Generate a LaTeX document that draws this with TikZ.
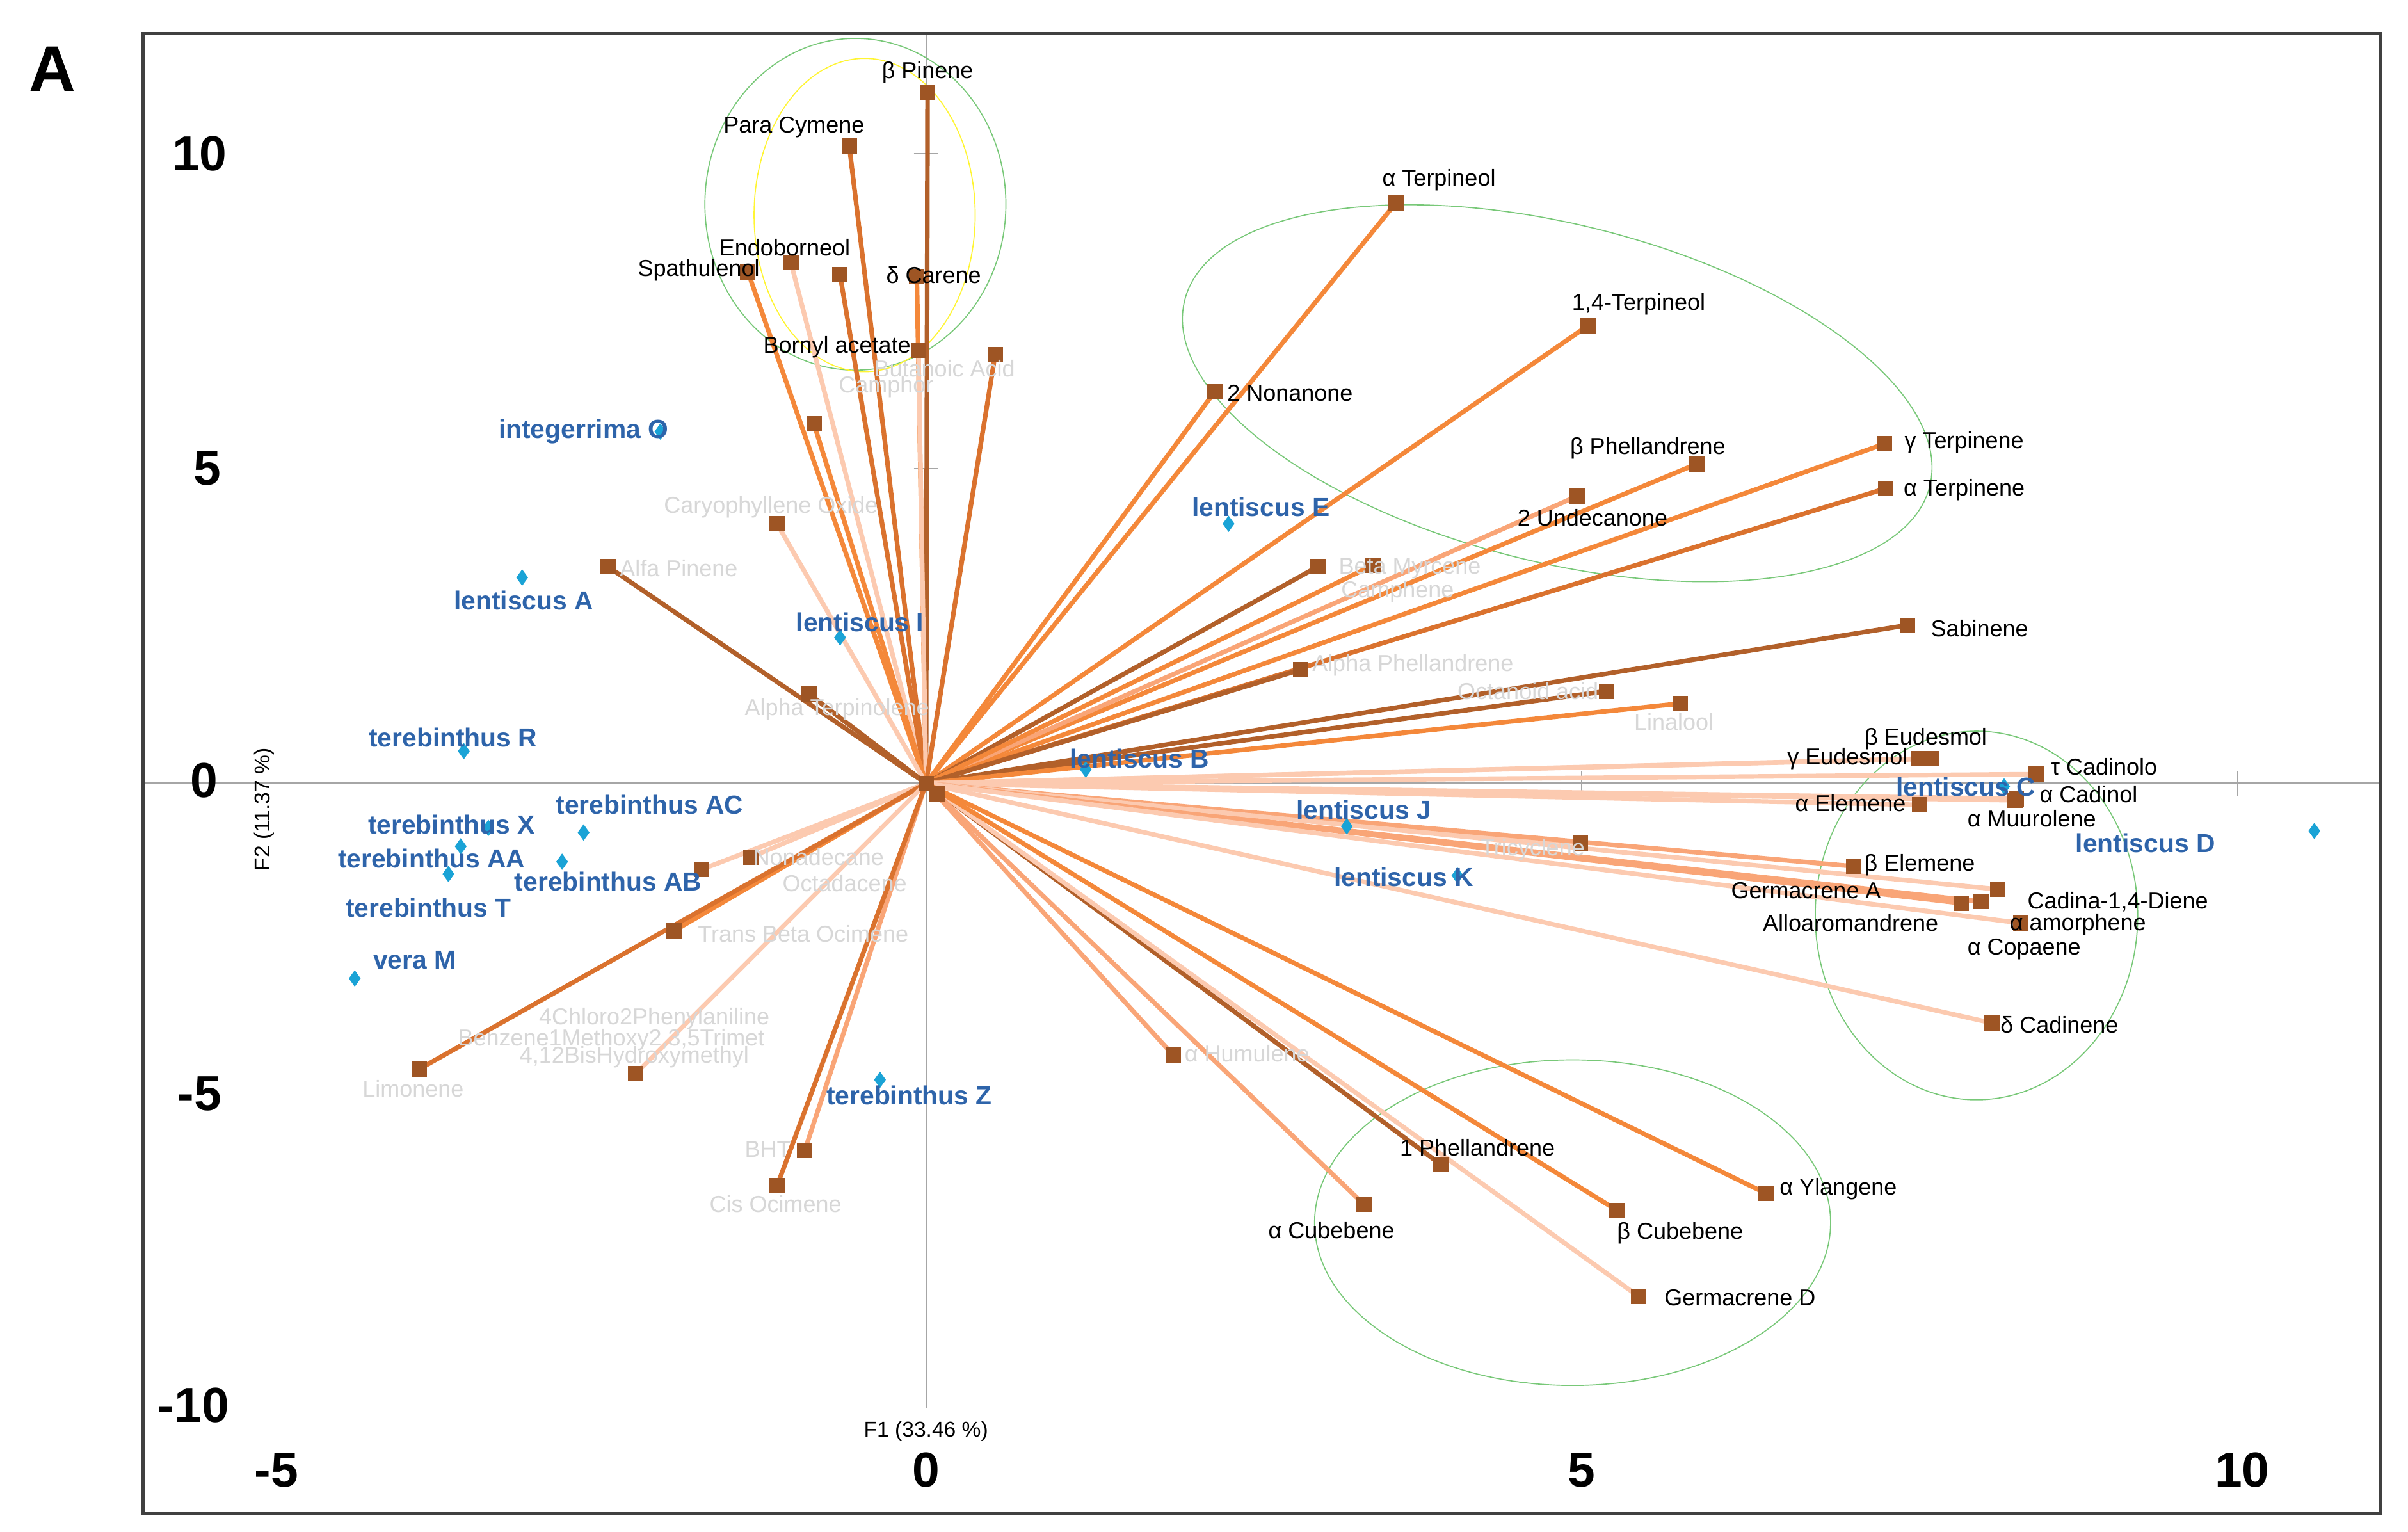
\documentclass[tikz,border=0pt]{standalone}
\usepackage{fontspec}
\setmainfont{Liberation Sans}
\begin{document}
\begin{tikzpicture}[x=0.5pt,y=-0.5pt,
 ln/.style={line width=1.5pt},
 c1/.style={ln,draw={rgb,255:red,178;green,96;blue,42}},
 c2/.style={ln,draw={rgb,255:red,244;green,136;blue,58}},
 c3/.style={ln,draw={rgb,255:red,218;green,114;blue,46}},
 c4/.style={ln,draw={rgb,255:red,249;green,165;blue,119}},
 c5/.style={ln,draw={rgb,255:red,252;green,202;blue,176}},
 sq/.style={fill={rgb,255:red,158;green,85;blue,36},minimum size=5pt,inner sep=0pt},
 bl/.style={font=\fontsize{7.5}{8}\selectfont,inner sep=0pt,text=black},
 gr/.style={font=\fontsize{7.5}{8}\selectfont,inner sep=0pt,text={rgb,255:red,215;green,215;blue,215}},
 bu/.style={font=\bfseries\fontsize{8.5}{9}\selectfont,inner sep=0pt,text={rgb,255:red,46;green,100;blue,170}},
 dm/.style={diamond,fill={rgb,255:red,26;green,163;blue,214},inner sep=0pt,minimum width=4pt,minimum height=5.5pt},
 tk/.style={font=\bfseries\fontsize{16}{18}\selectfont,inner sep=0pt},
 el/.style={draw={rgb,255:red,120;green,200;blue,120},line width=0.35pt}]
\usetikzlibrary{shapes.geometric}
\useasboundingbox (0,0) rectangle (1568,997);
\fill[white] (0,0) rectangle (1568,997);
% axes
\draw[gray!70,line width=0.5pt] (93,510) -- (1550,510);
\draw[gray!70,line width=0.5pt] (603,22) -- (603,917);
\foreach \x in {1030,1457} \draw[gray!70,line width=0.5pt] (\x,502) -- (\x,518);
\foreach \y in {100,305} \draw[gray!70,line width=0.5pt] (595,\y) -- (611,\y);
\coordinate (O) at (603,510);
% ellipses
\draw[el] (557,133) ellipse [x radius=98,y radius=108];
\draw[yellow!80!white,line width=0.35pt] (563,140) ellipse [x radius=72,y radius=102];
\draw[el,rotate around={-14:(1014,256)}] (1014,256) ellipse [x radius=250,y radius=110];
\draw[el] (1287,596) ellipse [x radius=105,y radius=120];
\draw[el] (1024,796) ellipse [x radius=168,y radius=106];
% loadings
\newcommand\ld[3]{\coordinate (#1) at (#2); \draw[#3] (O) -- (#1);}
\ld{bpin}{604,60}{c1}
\ld{pcym}{553,95}{c3}
\ld{endo}{515,171}{c5}
\ld{spat}{487,177}{c2}
\ld{unk}{547,179}{c3}
\ld{dcar}{597,180}{c2}
\ld{camp}{598,228}{c5}
\ld{buta}{648,231}{c3}
\ld{born}{530,276}{c2}
\ld{cary}{506,341}{c5}
\ld{alfp}{396,369}{c1}
\ld{alte}{527,452}{c1}
\ld{ater}{909,132}{c2}
\ld{tter}{1034,212}{c2}
\ld{nona}{791,255}{c2}
\ld{bphe}{1105,302}{c2}
\ld{unde}{1027,323}{c4}
\ld{gter}{1227,289}{c2}
\ld{aterp}{1228,318}{c3}
\ld{sabi}{1242,407}{c1}
\ld{bmyr}{858,369}{c1}
\ld{camh}{894,368}{c2}
\ld{aphe}{847,436}{c1}
\ld{octa}{1046,450}{c1}
\ld{lina}{1094,458}{c2}
\ld{beud}{1258,494}{c5}
\ld{geud}{1249,494}{c5}
\ld{tcad}{1326,504}{c5}
\ld{acad}{1313,520}{c5}
\ld{amuu}{1312,521}{c5}
\ld{aele}{1250,524}{c5}
\ld{tric}{1029,549}{c5}
\ld{bele}{1207,564}{c4}
\ld{gera}{1290,587}{c4}
\ld{cadd}{1301,579}{c5}
\ld{allo}{1277,588}{c4}
\ld{aamo}{1316,601}{c5}
\ld{dcad}{1297,666}{c5}
\ld{ahum}{764,687}{c4}
\ld{phel}{938,758}{c1}
\ld{germd}{1067,844}{c5}
\ld{acub}{888,784}{c4}
\ld{bcub}{1053,788}{c2}
\ld{ayla}{1150,777}{c2}
\ld{nonad}{489,558}{c5}
\ld{octd}{457,566}{c5}
\ld{tbo}{439,606}{c2}
\ld{limo}{273,696}{c3}
\ld{bis}{414,699}{c5}
\ld{bht}{524,749}{c4}
\ld{cis}{506,772}{c3}
\ld{ctr}{610,517}{c1}
\foreach \n in {bpin,pcym,endo,spat,unk,dcar,camp,buta,born,cary,alfp,alte,ater,tter,nona,bphe,unde,gter,aterp,sabi,bmyr,camh,aphe,octa,lina,beud,geud,tcad,acad,amuu,aele,tric,bele,gera,cadd,allo,aamo,dcad,ahum,phel,germd,acub,bcub,ayla,nonad,octd,tbo,limo,bis,bht,cis,ctr,O}
  \node[sq] at (\n) {};
% black labels
\node[bl] (l1) at (604,47) {β Pinene};
\node[bl] (l2) at (517,83) {Para Cymene};
\node[bl] (l3) at (511,161) {Endoborneol};
\node[bl] (l4) at (455,176) {Spathulenol};
\node[bl] (l5) at (608,179) {δ Carene};
\node[bl] (l6) at (545,226) {Bornyl acetate};
\node[bl] (l7) at (937,117) {α Terpineol};
\node[bl] (l8) at (1067,198) {1,4-Terpineol};
\node[bl] (l9) at (840,256) {2 Nonanone};
\node[bl] (l10) at (1073,292) {β Phellandrene};
\node[bl] (l11) at (1037,337) {2 Undecanone};
\node[bl] (l12) at (1279,288) {γ Terpinene};
\node[bl] (l13) at (1279,319) {α Terpinene};
\node[bl] (l14) at (1289,409) {Sabinene};
\node[bl] (l15) at (1254,481) {β Eudesmol};
\node[bl] (l16) at (1203,494) {γ Eudesmol};
\node[bl] (l17) at (1370,499) {τ Cadinolo};
\node[bl] (l18) at (1360,517) {α Cadinol};
\node[bl] (l19) at (1205,523) {α Elemene};
\node[bl] (l20) at (1323,533) {α Muurolene};
\node[bl] (l21) at (1250,563) {β Elemene};
\node[bl] (l22) at (1176,580) {Germacrene A};
\node[bl] (l23) at (1379,587) {Cadina-1,4-Diene};
\node[bl] (l24) at (1205,601) {Alloaromandrene};
\node[bl] (l25) at (1353,602) {α amorphene};
\node[bl] (l26) at (1318,618) {α Copaene};
\node[bl] (l27) at (1341,667) {δ Cadinene};
\node[bl] (l28) at (962,747) {1 Phellandrene};
\node[bl] (l29) at (1197,774) {α Ylangene};
\node[bl] (l30) at (867,801) {α Cubebene};
\node[bl] (l31) at (1094,803) {β Cubebene};
\node[bl] (l32) at (1133,845) {Germacrene D};
% gray labels
\node[gr] (g1) at (615,240) {Butanoic Acid};
\node[gr] (g2) at (577,252) {Camphor};
\node[gr] (g3) at (502,330) {Caryophyllene Oxide};
\node[gr] (g4) at (442,370) {Alfa Pinene};
\node[gr] (g5) at (545,462) {Alpha Terpinolene};
\node[gr] (g6) at (918,370) {Beta Myrcene};
\node[gr] (g7) at (910,385) {Camphene};
\node[gr] (g8) at (920,433) {Alpha Phellandrene};
\node[gr] (g9) at (995,450) {Octanoid acid};
\node[gr] (g10) at (1090,470) {Linalool};
\node[gr] (g11) at (998,553) {Tricyclene};
\node[gr] (g12) at (812,686) {α Humulene};
\node[gr] (g13) at (533,558) {Nonadecane};
\node[gr] (g14) at (550,575) {Octadacene};
\node[gr] (g15) at (523,608) {Trans Beta Ocimene};
\node[gr] (g16) at (426,663) {4Chloro2Phenylaniline};
\node[gr] (g17) at (398,677) {Benzene1Methoxy2,3,5Trimet};
\node[gr] (g18) at (413,688) {4,12BisHydroxymethyl};
\node[gr] (g19) at (269,709) {Limonene};
\node[gr] (g20) at (500,748) {BHT};
\node[gr] (g21) at (505,784) {Cis Ocimene};
% samples
\node[dm] (sO) at (430,281) {}; \node[bu] (bO) at (380,281) {integerrima O};
\node[dm] (sA) at (340,376) {}; \node[bu] (bA) at (341,391) {lentiscus A};
\node[dm] (sI) at (547,415) {}; \node[bu] (bI) at (560,405) {lentiscus I};
\node[dm] (sE) at (800,341) {}; \node[bu] (bE) at (821,330) {lentiscus E};
\node[dm] (sB) at (707,501) {}; \node[bu] (bB) at (742,494) {lentiscus B};
\node[dm] (sJ) at (877,538) {}; \node[bu] (bJ) at (888,527) {lentiscus J};
\node[dm] (sK) at (949,570) {}; \node[bu] (bK) at (914,571) {lentiscus K};
\node[dm] (sC) at (1305,512) {}; \node[bu] (bC) at (1280,512) {lentiscus C};
\node[dm] (sD) at (1507,541) {}; \node[bu] (bD) at (1397,549) {lentiscus D};
\node[dm] (sR) at (302,489) {}; \node[bu] (bR) at (295,480) {terebinthus R};
\node[dm] (sX) at (318,539) {}; \node[bu] (bX) at (294,537) {terebinthus X};
\node[dm] (sAC) at (380,542) {}; \node[bu] (bAC) at (423,524) {terebinthus AC};
\node[dm] (sAA) at (300,551) {}; \node[bu] (bAA) at (281,559) {terebinthus AA};
\node[dm] (sAB) at (366,561) {}; \node[bu] (bAB) at (396,574) {terebinthus AB};
\node[dm] (sT) at (292,569) {}; \node[bu] (bT) at (279,591) {terebinthus T};
\node[dm] (sM) at (231,637) {}; \node[bu] (bM) at (270,625) {vera M};
\node[dm] (sZ) at (573,703) {}; \node[bu] (bZ) at (592,713) {terebinthus Z};
% ticks
\node[tk] (t1) at (130,100) {10};
\node[tk] (t2) at (135,305) {5};
\node[tk] (t3) at (133,508) {0};
\node[tk] (t4) at (130,712) {-5};
\node[tk] (t5) at (126,915) {-10};
\node[tk] (t6) at (180,957) {-5};
\node[tk] (t7) at (603,957) {0};
\node[tk] (t8) at (1030,957) {5};
\node[tk] (t9) at (1460,957) {10};
\node[bl,font=\fontsize{7}{8}\selectfont] (ax1) at (603,932) {F1 (33.46 \%)};
\node[bl,font=\fontsize{7}{8}\selectfont,rotate=90] (ax2) at (172,527) {F2 (11.37 \%)};
\node[font=\bfseries\fontsize{21}{24}\selectfont,inner sep=0pt] (A) at (34,45) {A};
\draw[black!75,line width=1pt] (93,22) rectangle (1550,985);
\end{tikzpicture}
\end{document}
